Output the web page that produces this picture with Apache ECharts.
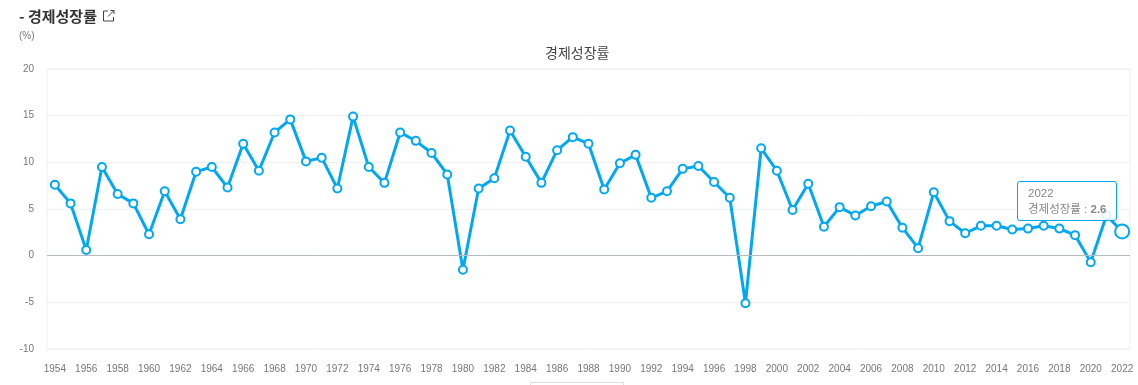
<!DOCTYPE html>
<html><head><meta charset="utf-8">
<style>html,body{margin:0;padding:0;background:#fff}#c{width:1138px;height:385px}</style>
<script src="https://cdn.jsdelivr.net/npm/echarts@6/dist/echarts.min.js"></script>
</head><body><div id="c"></div>
<script>
const years = [1954,1955,1956,1957,1958,1959,1960,1961,1962,1963,1964,1965,1966,1967,1968,1969,1970,1971,1972,1973,1974,1975,1976,1977,1978,1979,1980,1981,1982,1983,1984,1985,1986,1987,1988,1989,1990,1991,1992,1993,1994,1995,1996,1997,1998,1999,2000,2001,2002,2003,2004,2005,2006,2007,2008,2009,2010,2011,2012,2013,2014,2015,2016,2017,2018,2019,2020,2021,2022].map(String);
const growth = [7.6,5.6,0.6,9.5,6.6,5.6,2.3,6.9,3.9,9.0,9.5,7.3,12.0,9.1,13.2,14.6,10.1,10.5,7.2,14.9,9.5,7.8,13.2,12.3,11.0,8.7,-1.5,7.2,8.3,13.4,10.6,7.8,11.3,12.7,12.0,7.1,9.9,10.8,6.2,6.9,9.3,9.6,7.9,6.2,-5.1,11.5,9.1,4.9,7.7,3.1,5.2,4.3,5.3,5.8,3.0,0.8,6.8,3.7,2.4,3.2,3.2,2.8,2.9,3.2,2.9,2.2,-0.7,4.3,2.6];
const seriesName = '경제성장률';
const pageTitle = '- 경제성장률';
const unit = '(%)';

const FONT = '"Liberation Sans","Noto Sans CJK KR",sans-serif';
const BLUE = '#00a8f3';
const last = growth.length - 1;
const chart = echarts.init(document.getElementById('c'), null, {renderer:'canvas'});
chart.setOption({
  animation:false,
  textStyle:{fontFamily:FONT},
  grid:{left:47,right:8,top:69,bottom:36,show:true,borderColor:'#f0f0f0',borderWidth:1,containLabel:false},
  graphic:[
    {type:'text',left:19,top:9,style:{text:pageTitle,font:'bold 15px "Noto Sans CJK KR",sans-serif',fill:'#333'}},
    {type:'text',left:19,top:31,style:{text:unit,font:'10px '+FONT,fill:'#777'}},
    {type:'text',left:545,top:46,style:{text:seriesName,font:'14px "Noto Sans CJK KR",sans-serif',fill:'#444'}},
    {type:'polyline',shape:{points:[[108,11],[103.5,11],[103.5,21],[113.5,21],[113.5,17]]},style:{stroke:'#444',lineWidth:1,fill:null}},
    {type:'polyline',shape:{points:[[108,16.5],[114,10.5]]},style:{stroke:'#444',lineWidth:1,fill:null}},
    {type:'polyline',shape:{points:[[110.5,10.5],[114,10.5],[114,14]]},style:{stroke:'#444',lineWidth:1,fill:null}},
    {type:'rect',shape:{x:530.5,y:382.5,width:93,height:12},style:{stroke:'#dddddd',fill:'#fff',lineWidth:1}}
  ],
  tooltip:{
    trigger:'item',alwaysShowContent:true,showDelay:0,transitionDuration:0,
    position:[1017,181],
    backgroundColor:'rgba(255,255,255,0.85)',borderColor:BLUE,borderWidth:1,borderRadius:3,
    padding:[3,10],extraCssText:'box-shadow:none;box-sizing:border-box;width:100px;height:40px;line-height:16px;',
    textStyle:{color:'#888',fontSize:11.5,fontFamily:FONT},
    formatter:p=>p.name+'<br/>'+p.seriesName+' : <b>'+p.value+'</b>'
  },
  xAxis:{
    type:'category',data:years,boundaryGap:true,
    axisLine:{show:false},axisTick:{show:false},splitLine:{show:false},
    axisLabel:{interval:1,color:'#777',fontSize:10,margin:15,hideOverlap:false,showMaxLabel:true}
  },
  yAxis:{
    type:'value',min:-10,max:20,interval:5,
    axisLine:{show:false},axisTick:{show:false},
    axisLabel:{color:'#777',fontSize:10,margin:13,padding:[2,0,0,0]},
    splitLine:{show:true,lineStyle:{color:'#f0f0f0',width:1}}
  },
  series:[{
    name:seriesName,type:'line',data:growth,
    symbol:'circle',
    symbolSize:(v,p)=>p.dataIndex===last?14:8,
    showAllSymbol:true,
    lineStyle:{color:BLUE,width:3},
    itemStyle:{color:'#fff',borderColor:BLUE,borderWidth:2},
    emphasis:{scale:false},
    markLine:{silent:true,symbol:'none',label:{show:false},
      lineStyle:{color:'#b4bcc4',width:1,type:'solid'},
      data:[{yAxis:0}]}
  }]
});
chart.dispatchAction({type:'showTip',seriesIndex:0,dataIndex:last});
</script></body></html>
